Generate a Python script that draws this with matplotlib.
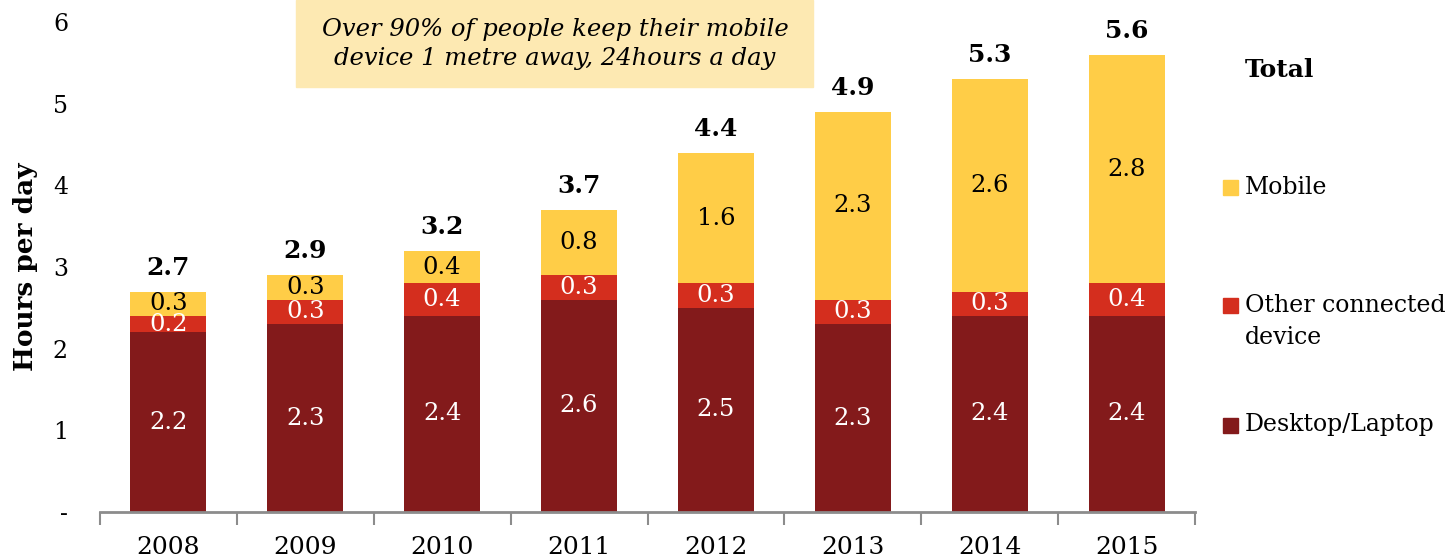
import matplotlib.pyplot as plt
import matplotlib.patches as mpatches
import numpy as np

plt.rcParams['font.family'] = ['DejaVu Serif']

# data
years = ['2008', '2009', '2010', '2011', '2012', '2013', '2014', '2015']
desktop = [2.2, 2.3, 2.4, 2.6, 2.5, 2.3, 2.4, 2.4]
other = [0.2, 0.3, 0.4, 0.3, 0.3, 0.3, 0.3, 0.4]
mobile = [0.3, 0.3, 0.4, 0.8, 1.6, 2.3, 2.6, 2.8]
totals = [2.7, 2.9, 3.2, 3.7, 4.4, 4.9, 5.3, 5.6]
ytick_labels = ['-', '1', '2', '3', '4', '5', '6']

c_desk = '#831a1b'
c_other = '#d42e1e'
c_mob = '#ffcd47'

fig = plt.figure(figsize=(14.53, 5.58), dpi=100)
ax = fig.add_axes([100/1453, 46/558, 1095/1453, 490/558])
ax.patch.set_alpha(0)

x = np.arange(len(years))
w = 0.555
d = np.array(desktop)
o = np.array(other)
m = np.array(mobile)

ax.bar(x, d, w, color=c_desk)
ax.bar(x, o, w, bottom=d, color=c_other)
ax.bar(x, m, w, bottom=d + o, color=c_mob)

for i in range(len(years)):
    ax.text(x[i], d[i] / 2, f'{desktop[i]:.1f}', ha='center', va='center',
            color='white', fontsize=17.5)
    ax.text(x[i], d[i] + o[i] / 2, f'{other[i]:.1f}', ha='center', va='center',
            color='white', fontsize=17.5)
    ax.text(x[i], d[i] + o[i] + m[i] / 2, f'{mobile[i]:.1f}', ha='center',
            va='center', color='black', fontsize=17.5)
    ax.text(x[i], d[i] + o[i] + m[i] + 0.29, f'{totals[i]:.1f}', ha='center',
            va='center', color='black', fontsize=18, fontweight='bold')

ax.set_xlim(-0.5, len(years) - 0.5)
ax.set_ylim(0, 6)

for s in ['top', 'right', 'left']:
    ax.spines[s].set_visible(False)
ax.spines['bottom'].set_color('#8c8c8c')
ax.spines['bottom'].set_linewidth(2)

ax.set_xticks(x)
ax.set_xticklabels(years, fontsize=18)
ax.set_xticks(np.arange(-0.5, len(years)), minor=True)
ax.tick_params(axis='x', which='major', length=0, pad=17)
ax.tick_params(axis='x', which='minor', length=9, width=1.5, color='#8c8c8c')

ax.set_yticks(range(7))
ax.set_yticklabels(ytick_labels, fontsize=17)
ax.tick_params(axis='y', length=0, pad=23)
ax.set_ylabel('Hours per day', fontsize=19, fontweight='bold')
ax.yaxis.set_label_coords(-62/1095, 0.5)

# callout box
fig.patches.append(mpatches.Rectangle((296/1453, 1 - 87/558), 517/1453, 87/558,
                                      transform=fig.transFigure, color='#fde9b2',
                                      zorder=-1))
fig.text(555/1453, 1 - 44/558,
         'Over 90% of people keep their mobile\ndevice 1 metre away, 24hours a day',
         ha='center', va='center', fontsize=17.5, style='italic', linespacing=1.35)

# legend
fig.text(1245/1453, 1 - 70/558, 'Total', fontsize=18, fontweight='bold', va='center')
leg_items = [('Mobile', c_mob, 187), ('Other connected', c_other, 305),
             ('Desktop/Laptop', c_desk, 425)]
for lab, col, yy in leg_items:
    fig.patches.append(mpatches.Rectangle((1223/1453, 1 - (yy + 8)/558), 15/1453, 15/558,
                                          transform=fig.transFigure, color=col))
    fig.text(1245/1453, 1 - yy/558, lab, fontsize=17, va='center')
fig.text(1245/1453, 1 - 337/558, 'device', fontsize=17, va='center')

fig.savefig('out.png', dpi=100)
